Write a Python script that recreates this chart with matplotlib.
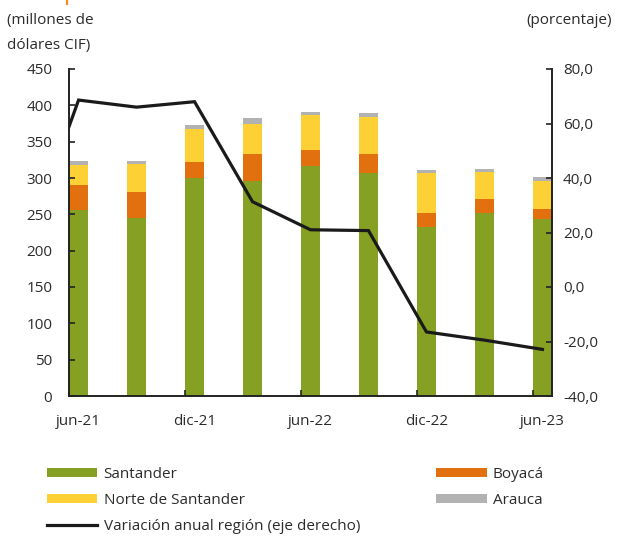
import numpy as np
import matplotlib.pyplot as plt
from matplotlib.lines import Line2D

plt.rcParams['font.family'] = ['Open Sans', 'DejaVu Sans']

# datos (millones de dólares CIF)
periodos = ['jun-21', 'sep-21', 'dic-21', 'mar-22', 'jun-22',
            'sep-22', 'dic-22', 'mar-23', 'jun-23']
santander = [256, 244.5, 300.5, 295.5, 317, 307, 232, 252, 243]
boyaca = [35, 36, 21.5, 37.5, 21, 26, 20, 19.5, 14.5]
norte_santander = [27.5, 38.5, 45, 42, 49, 51.5, 54.5, 36.5, 39]
arauca = [5, 5, 5.5, 7.5, 4, 4.5, 4.5, 4.5, 5.5]

# variación anual (%), el primer punto (mar-21) queda fuera del eje
periodos_var = ['mar-21'] + periodos
variacion = [9.5, 68.6, 66.0, 68.0, 31.3, 21.0, 20.7, -16.5, -19.5, -22.9]

etiquetas_x = ['jun-21', 'dic-21', 'jun-22', 'dic-22', 'jun-23']

c_verde = '#86a024'
c_naranja = '#e3700e'
c_amarillo = '#fdd035'
c_gris = '#b2b2b2'
c_texto = '#2b2b2b'

fig = plt.figure(figsize=(6.18, 5.37), dpi=100)
ax = fig.add_axes([69/618, 1-396/537, (552-69)/618, (396-69)/537])
ax2 = ax.twinx()

ancho = 0.33
x = np.arange(len(periodos))

b1 = ax.bar(x, santander, ancho, align='edge', color=c_verde, label='Santander')
base = np.array(santander)
b2 = ax.bar(x, boyaca, ancho, bottom=base, align='edge', color=c_naranja, label='Boyacá')
base = base + np.array(boyaca)
b3 = ax.bar(x, norte_santander, ancho, bottom=base, align='edge', color=c_amarillo,
            label='Norte de Santander')
base = base + np.array(norte_santander)
b4 = ax.bar(x, arauca, ancho, bottom=base, align='edge', color=c_gris, label='Arauca')

x_var = np.arange(-1, len(periodos)) + ancho/2
l1, = ax2.plot(x_var, variacion, color='#1a1a1a', lw=2.3, solid_joinstyle='miter',
               label='Variación anual región (eje derecho)')

ax.set_xlim(0, 8 + ancho)
ax.set_ylim(0, 450)
ax2.set_ylim(-40, 80)

ax.set_yticks(np.arange(0, 451, 50))
ax2.set_yticks(np.arange(-40, 81, 20))
ax2.set_yticklabels([f'{v:.1f}'.replace('.', ',') for v in np.arange(-40, 81, 20)])

ax.set_xticks([0, 2, 4, 6, 8])
ax.set_xticklabels([])
ax.set_xticks(np.array([0, 2, 4, 6, 8]) + ancho/2, minor=True)
ax.set_xticklabels(etiquetas_x, minor=True)

for a in (ax, ax2):
    a.spines['top'].set_visible(False)
    for s in a.spines.values():
        s.set_color('#222222')
        s.set_linewidth(1.2)

ax.tick_params(axis='x', which='major', direction='in', length=4, width=1.2, color='#222222')
ax.tick_params(axis='x', which='minor', length=0, pad=13, labelsize=11, labelcolor=c_texto)
ax.tick_params(axis='y', direction='in', length=4, width=1.2, pad=12, labelsize=11,
               labelcolor=c_texto, color='#222222')
ax2.tick_params(axis='y', direction='in', length=4, width=1.2, pad=8, labelsize=11,
                labelcolor=c_texto, color='#222222')

fig.text(7/618, 1-13/537, '(millones de\ndólares CIF)', ha='left', va='top',
         fontsize=11, color=c_texto, linespacing=1.9)
fig.text(612/618, 1-13/537, '(porcentaje)', ha='right', va='top',
         fontsize=11, color=c_texto)

# marca naranja del título recortado
fig.add_artist(Line2D([67/618, 67/618], [1, 1-4/537], color='#f08a1c', lw=1.5))

fig.legend([b1, b3, l1, b2, b4],
           ['Santander', 'Norte de Santander', 'Variación anual región (eje derecho)',
            'Boyacá', 'Arauca'],
           ncol=2, loc='upper left', bbox_to_anchor=(47/618, 1-467/537),
           frameon=False, fontsize=11, handlelength=3.3, handleheight=0.55,
           handletextpad=0.4, labelspacing=0.72, columnspacing=5.0,
           borderpad=0, borderaxespad=0, labelcolor=c_texto)

fig.savefig('out.png', dpi=100)
